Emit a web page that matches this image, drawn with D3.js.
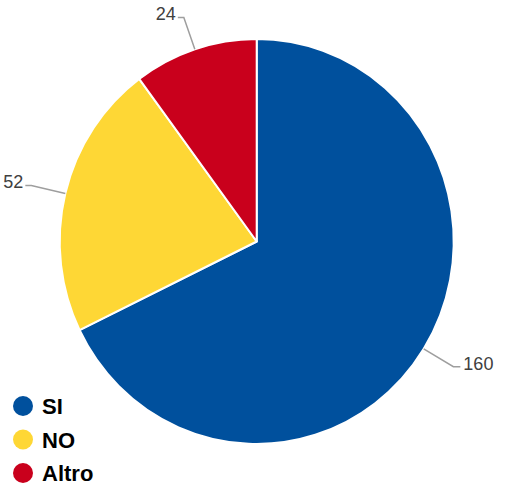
<!DOCTYPE html>
<html><head><meta charset="utf-8">
<script src="https://cdn.jsdelivr.net/npm/d3@7"></script>
<style>html,body{margin:0;padding:0;background:#fff;}svg{display:block;}</style>
</head><body>
<svg id="c" width="505" height="484"></svg>
<script>
const categories = ["SI", "NO", "Altro"];
const values = [160, 52, 24];
const colors = ["#00509d", "#fed735", "#c9001c"];

const cx = 256.7, cy = 241.5, R = 197, sy = 202.5 / 197;
const svg = d3.select("#c");
const data = categories.map((c, i) => ({cat: c, value: values[i], color: colors[i]}));
const pie = d3.pie().sort(null).value(d => d.value);
const arcs = pie(data);
const arc = d3.arc().innerRadius(0).outerRadius(R);
const g = svg.append("g").attr("transform", `translate(${cx},${cy}) scale(1,${sy})`);
g.selectAll("path.s").data(arcs).enter().append("path")
  .attr("class", "s").attr("d", arc)
  .attr("fill", d => d.data.color)
  .attr("stroke", "#fff").attr("stroke-width", 2).attr("stroke-linejoin", "round");

const lg = svg.append("g");
arcs.forEach(d => {
  const m = (d.startAngle + d.endAngle) / 2;
  const p0 = [cx + Math.sin(m) * R, cy - Math.cos(m) * R * sy];
  const p1 = [cx + Math.sin(m) * 232, cy - Math.cos(m) * 236];
  const right = p1[0] > cx;
  const hl = right ? 7 : -6;
  const p2 = [p1[0] + hl, p1[1]];
  lg.append("path").attr("d", d3.line()([p0, p1, p2]))
    .attr("fill", "none").attr("stroke", "#9e9e9e").attr("stroke-width", 1.5);
  lg.append("text").attr("x", p2[0] + (right ? 3 : -2)).attr("y", p2[1] + 3)
    .attr("text-anchor", right ? "start" : "end")
    .attr("font-family", "Liberation Sans, Arial, sans-serif").attr("font-size", 18)
    .attr("fill", "#404040").text(d.data.value);
});

const leg = svg.append("g");
const ly = d3.scalePoint().domain(categories).range([406, 473]);
data.forEach(d => {
  leg.append("circle").attr("cx", 23).attr("cy", ly(d.cat)).attr("r", 10).attr("fill", d.color);
  leg.append("text").attr("x", 42).attr("y", ly(d.cat)).attr("dy", "0.37em")
    .attr("font-family", "Liberation Sans, Arial, sans-serif").attr("font-weight", "bold")
    .attr("font-size", 22).attr("fill", "#000").text(d.cat);
});
</script>
</body></html>
